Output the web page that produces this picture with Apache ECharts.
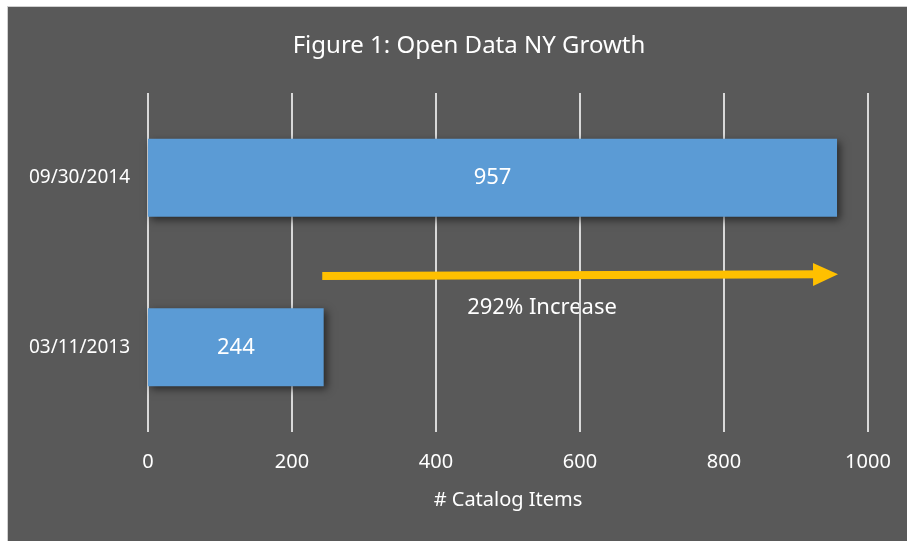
<!DOCTYPE html>
<html>
<head>
<meta charset="utf-8">
<script src="https://cdn.jsdelivr.net/npm/echarts@6/dist/echarts.min.js"></script>
<style>
  body { margin: 0; background: #fff; }
  #wrap { position: relative; width: 907px; height: 541px; overflow: hidden; }
  #chart { position: absolute; left: 7px; top: 6px; width: 900px; height: 535px; border-left: 1px solid #d0d0d0; border-top: 1px solid #d0d0d0; box-sizing: border-box; }
</style>
</head>
<body>
<div id="wrap"><div id="chart"></div></div>
<script>
// chart data
const categories = ['03/11/2013', '09/30/2014'];
const catalogItems = [244, 957];
const xTicks = [0, 200, 400, 600, 800, 1000];

const increase = Math.round((catalogItems[1] - catalogItems[0]) / catalogItems[0] * 100);

let chart = echarts.init(document.getElementById('chart'));
const font = 'Noto Sans';

let option = {
  backgroundColor: '#595959',
  textStyle: { fontFamily: font },
  title: {
    text: 'Figure 1: Open Data NY Growth',
    left: 456,
    top: 22,
    textAlign: 'center',
    textStyle: { color: '#fff', fontSize: 24, fontWeight: 'normal', fontFamily: font }
  },
  grid: { left: 140, top: 86, right: 39, bottom: 109, containLabel: false },
  xAxis: {
    type: 'value',
    min: xTicks[0],
    max: xTicks[xTicks.length - 1],
    interval: 200,
    name: '# Catalog Items',
    nameLocation: 'middle',
    nameGap: 58,
    nameTextStyle: { color: '#fff', fontSize: 20, fontFamily: font },
    axisLine: { show: false },
    axisTick: { show: false },
    axisLabel: { color: '#fff', fontSize: 20, margin: 20, fontFamily: font, formatter: v => String(v) },
    splitLine: { show: true, lineStyle: { color: '#d9d9d9', width: 2 } }
  },
  yAxis: [{
    type: 'category',
    data: categories,
    axisLine: { show: false },
    axisTick: { show: false },
    axisLabel: { color: '#fff', fontSize: 19, margin: 18, fontFamily: font }
  }, {
    // hidden helper axis for placing the arrow between the bars
    type: 'value',
    min: 0,
    max: 2,
    show: false
  }],
  series: [{
    type: 'bar',
    data: catalogItems,
    barWidth: '46%',
    itemStyle: {
      color: '#5B9BD5',
      shadowBlur: 8,
      shadowOffsetX: 3,
      shadowOffsetY: 3,
      shadowColor: 'rgba(0,0,0,0.55)'
    },
    label: {
      show: true,
      position: 'inside',
      color: '#fff',
      fontSize: 22,
      fontFamily: font
    },
    silent: true
  }, {
    type: 'line',
    xAxisIndex: 0,
    yAxisIndex: 1,
    data: [],
    silent: true,
    markLine: {
      silent: true,
      symbol: ['none', 'triangle'],
      symbolSize: [23, 25],
      lineStyle: { color: '#FFC000', width: 8, type: 'solid' },
      label: { show: false },
      data: [[
        { coord: [catalogItems[0] - 2, 0.92] },
        { coord: [catalogItems[1] - 16, 0.93] }
      ]]
    }
  }],
  graphic: [{
    type: 'text',
    x: 534,
    y: 301,
    style: {
      text: increase + '% Increase',
      fill: '#fff',
      fontSize: 22,
      fontFamily: font,
      textAlign: 'center',
      textVerticalAlign: 'middle'
    }
  }]
};

chart.setOption(option);
</script>
</body>
</html>
